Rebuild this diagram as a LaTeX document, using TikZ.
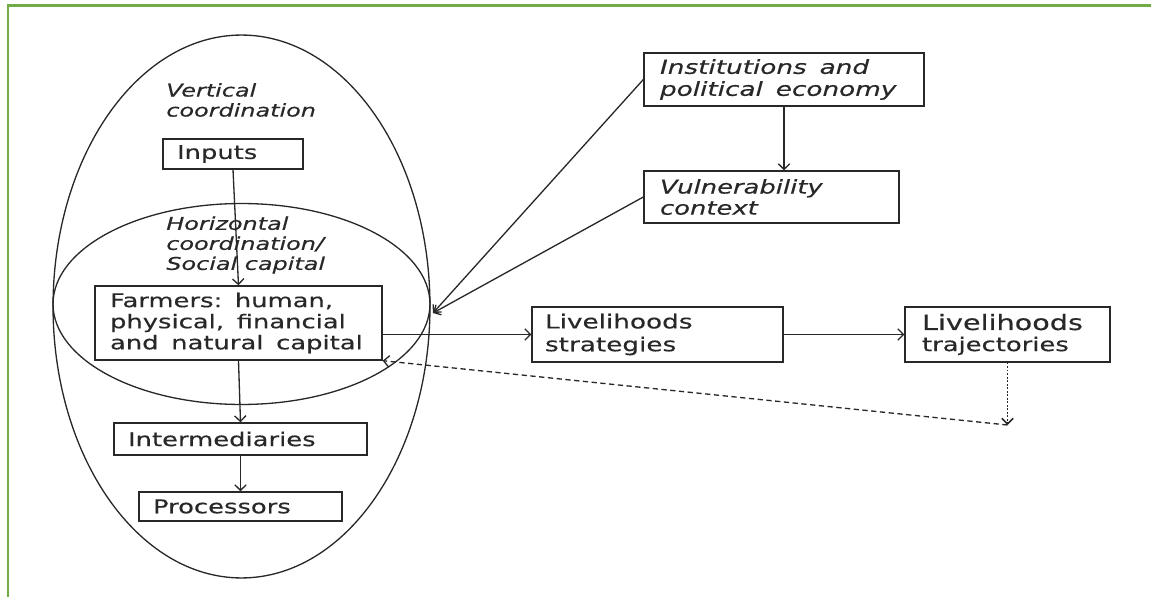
\documentclass[tikz,border=0pt]{standalone}
\usepackage{fontspec}
\setmainfont{DejaVu Sans}[FakeStretch=1.36, FakeBold=0.4]
\usepackage{xcolor}
\usepackage{tikz}
\usetikzlibrary{arrows.meta, positioning, calc}

\definecolor{framegreen}{RGB}{112,173,71}
\definecolor{inkgrey}{RGB}{40,40,40}

\begin{document}
\begin{tikzpicture}[
  x=0.02cm, y=-0.02cm,
  box/.style={draw=inkgrey, line width=0.8pt, align=left, text=inkgrey, font=\fontsize{10.8}{12}\selectfont},
  label/.style={align=left, inner sep=0pt, text=inkgrey, font=\fontsize{10}{11.4}\selectfont\itshape},
  arrow/.style={-{Straight Barb[length=3.2pt, width=6.5pt]}, draw=inkgrey, line width=0.75pt},
  ring/.style={draw=inkgrey, line width=0.75pt}
]
\useasboundingbox (0,0) rectangle (1151,597);

% FRAME
\draw[framegreen, line width=1.2pt] (8,597) -- (8,5.5) -- (1151,5.5);

% COORDINATION ELLIPSES
\draw[ring] (241.5,306.5) ellipse [x radius=3.77cm, y radius=5.43cm];
\draw[ring] (241.5,304) ellipse [x radius=3.77cm, y radius=2.01cm];

\node[label, anchor=west] (vert) at (166,100) {Vertical\\coordination};
\node[label, anchor=west] (horiz) at (166,245) {Horizontal\\coordination/\\Social capital};

% VALUE CHAIN
\node[box, minimum width=2.8cm, minimum height=0.6cm, text width=2.24cm, inner xsep=0.28cm] (inputs) at (233,154) {Inputs};
\node[box, minimum width=5.74cm, minimum height=1.48cm, text width=5.14cm, inner xsep=0.3cm] (farmers) at (238.5,323) {Farmers:\ \ human,\\ physical,\ \ financial\\ and\ \ natural\ \ capital};
\node[box, minimum width=5.06cm, minimum height=0.64cm, text width=4.5cm, inner xsep=0.28cm] (inter) at (240.5,439) {Intermediaries};
\node[box, minimum width=4.06cm, minimum height=0.58cm, text width=3.5cm, inner xsep=0.28cm] (proc) at (240.5,506.5) {Processors};

\draw[arrow] (inputs.south) -- (farmers.north);
\draw[arrow] (farmers.south) -- (inter.north);
\draw[arrow] (inter.south) -- (proc.north);

% CONTEXT
\node[box, font=\fontsize{11}{12.5}\selectfont\itshape, minimum width=5.6cm, minimum height=1.06cm, text width=4.96cm, inner xsep=0.32cm] (inst) at (784,79.5) {Institutions\ \ and\\ political\ \ economy};
\node[box, font=\fontsize{10.8}{12}\selectfont\itshape, minimum width=5.1cm, minimum height=1.04cm, text width=4.46cm, inner xsep=0.32cm] (vuln) at (771.5,197) {Vulnerability\\ context};

\coordinate (meet) at (433,313);
\draw[arrow] (inst.south) -- (inst.south |- vuln.north);
\draw[arrow] (inst.west) -- (meet);
\draw[arrow] (vuln.west) -- (meet);

% LIVELIHOODS
\node[box, font=\fontsize{11}{13}\selectfont, minimum width=5.02cm, minimum height=1.1cm, text width=4.5cm, inner xsep=0.26cm] (strat) at (657.5,334.5) {Livelihoods\\ strategies};
\node[box, minimum width=4.1cm, minimum height=1.1cm, text width=3.42cm, inner xsep=0.34cm] (traj) at (1007.5,334.5) {{\fontsize{12}{13}\selectfont Livelihoods}\\ trajectories};

\draw[arrow] (farmers.east |- strat.west) -- (strat.west);
\draw[arrow] (strat.east) -- (traj.west);

% FEEDBACK
\coordinate (back) at (1007.5,425);
\draw[arrow, dash pattern=on 1pt off 1pt, line width=0.9pt] (traj.south) -- (back);
\draw[arrow, dash pattern=on 3pt off 2pt] (back) -- (farmers.south east);

\end{tikzpicture}
\end{document}
